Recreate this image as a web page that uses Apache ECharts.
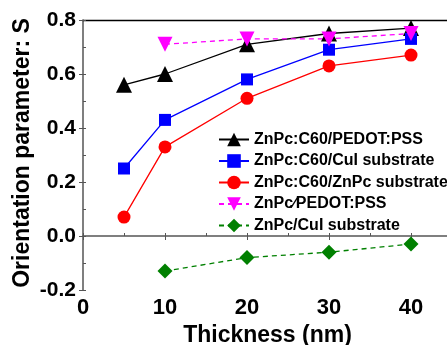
<!DOCTYPE html>
<html><head><meta charset="utf-8">
<script src="https://cdn.jsdelivr.net/npm/echarts@6/dist/echarts.min.js"></script>
<style>html,body{margin:0;padding:0;background:#fff}#c{width:447px;height:345px}</style>
</head><body><div id="c"></div>
<script>
const thickness5 = [5, 10, 20, 30, 40];
const thickness4 = [10, 20, 30, 40];
const names = ['ZnPc:C60/PEDOT:PSS','ZnPc:C60/CuI substrate','ZnPc:C60/ZnPc substrate','ZnPc\u2215PEDOT:PSS','ZnPc/CuI substrate'];
const sC60Pedot = [0.56, 0.60, 0.71, 0.75, 0.77];
const sC60CuI = [0.25, 0.43, 0.58, 0.69, 0.73];
const sC60ZnPc = [0.07, 0.33, 0.51, 0.63, 0.67];
const sZnPcPedot = [0.71, 0.73, 0.73, 0.75];
const sZnPcCuI = [-0.13, -0.08, -0.06, -0.03];
const xTicks = [0, 10, 20, 30, 40];
const yTicks = [-0.2, 0.0, 0.2, 0.4, 0.6, 0.8];
const yTitle = 'Orientation parameter: S';
const xTitle = 'Thickness (nm)';

const pair = (xs, ys) => xs.map((x, i) => [x, ys[i]]);
const font = 'Arial, "Liberation Sans", sans-serif';

const chart = echarts.init(document.getElementById('c'));
const mk = (name, xs, ys, color, symbol, size, dashed, rot) => ({
  name, type: 'line', data: pair(xs, ys), symbol, symbolSize: size, symbolRotate: rot || 0,
  itemStyle: {color}, lineStyle: {color, width: 1.3, type: dashed ? [5, 4] : 'solid'},
  z: 3
});
chart.setOption({
  animation: false,
  grid: {left: 83, top: 20, right: -5, bottom: 55, outerBoundsMode: 'none', containLabel: false},
  graphic: [{
    type: 'text', x: 22.5, y: 153, rotation: Math.PI / 2,
    style: {text: yTitle, fontFamily: font, fontWeight: 'bold', fontSize: 23, fill: '#000',
      align: 'center', verticalAlign: 'middle'}
  }],
  legend: {
    orient: 'vertical', left: 218, top: 131, padding: 0, itemWidth: 30, itemHeight: 17, itemGap: 4.5,
    textStyle: {fontFamily: font, fontWeight: 'bold', fontSize: 16, lineHeight: 17, color: '#000'},
    data: names
  },
  xAxis: [{
    type: 'value', min: 0, max: 45, interval: 10, position: 'bottom',
    axisLine: {lineStyle: {color: '#555', width: 1.5}},
    axisTick: {inside: false, length: 4, lineStyle: {color: '#555'}},
    splitLine: {show: false},
    axisLabel: {fontFamily: font, fontWeight: 'bold', fontSize: 22, color: '#000', margin: 7,
      formatter: v => xTicks.includes(v) ? String(v) : ''},
    name: xTitle, nameLocation: 'middle', nameGap: 34,
    nameTextStyle: {fontFamily: font, fontWeight: 'bold', fontSize: 23, color: '#000'}
  }, {
    type: 'value', min: 0, max: 45, interval: 5, position: 'bottom',
    axisLine: {show: false},
    axisTick: {inside: true, length: 3, lineStyle: {color: '#555'}},
    axisLabel: {show: false}, splitLine: {show: false}
  }, {
    type: 'value', min: 0, max: 45, position: 'top',
    axisLine: {lineStyle: {color: '#000', width: 1.3}},
    axisTick: {show: false}, axisLabel: {show: false}, splitLine: {show: false}
  }],
  yAxis: [{
    type: 'value', min: -0.2, max: 0.8, interval: 0.2,
    axisLine: {show: true, lineStyle: {color: '#555', width: 1.5}},
    axisTick: {show: true, inside: false, length: 4, lineStyle: {color: '#555'}},
    splitLine: {show: false},
    axisLabel: {fontFamily: font, fontWeight: 'bold', fontSize: 21, color: '#000', margin: 7,
      formatter: v => yTicks.some(t => Math.abs(t - v) < 1e-9) ? v.toFixed(1) : ''}
  }, {
    type: 'value', min: -0.2, max: 0.8, interval: 0.1, position: 'left',
    axisLine: {show: false},
    axisTick: {show: true, inside: true, length: 3, lineStyle: {color: '#555'}},
    axisLabel: {show: false}, splitLine: {show: false}
  }],
  series: [
    mk(names[0], thickness5, sC60Pedot, '#000000', 'triangle', 16, false),
    mk(names[1], thickness5, sC60CuI, '#0000ff', 'rect', 12, false),
    mk(names[2], thickness5, sC60ZnPc, '#ff0000', 'circle', 13, false),
    mk(names[3], thickness4, sZnPcPedot, '#ff00ff', 'triangle', 15, true, 180),
    mk(names[4], thickness4, sZnPcCuI, '#008000', 'diamond', 15, true)
  ]
});
</script></body></html>
